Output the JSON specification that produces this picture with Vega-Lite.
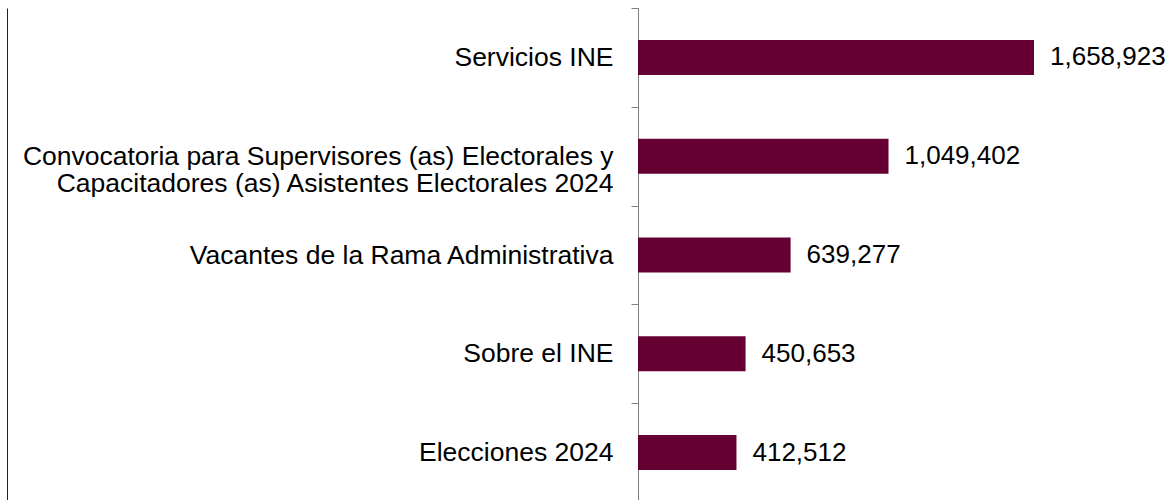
{
  "$schema": "https://vega.github.io/schema/vega-lite/v6.json",
  "width": 534,
  "height": 494,
  "autosize": {"type": "none"},
  "padding": {"left": 638, "top": 8, "right": 0, "bottom": 0},
  "background": "white",
  "config": {"view": {"stroke": null}, "font": "Liberation Sans"},
  "data": {
    "values": [
      {"categoria": "Servicios INE", "visitas": 1658923},
      {"categoria": "Convocatoria para Supervisores (as) Electorales y\nCapacitadores (as) Asistentes Electorales 2024", "visitas": 1049402},
      {"categoria": "Vacantes de la Rama Administrativa", "visitas": 639277},
      {"categoria": "Sobre el INE", "visitas": 450653},
      {"categoria": "Elecciones 2024", "visitas": 412512}
    ]
  },
  "encoding": {
    "y": {
      "field": "categoria",
      "type": "nominal",
      "sort": null,
      "scale": {"paddingInner": 0.646, "paddingOuter": 0.323},
      "axis": {
        "title": null,
        "labelExpr": "isValid(datum.value) ? split(datum.value, '\\n') : ''",
        "labelFont": "Liberation Sans",
        "labelFontSize": 26.5,
        "labelColor": "#000000",
        "labelLineHeight": 27,
        "labelPadding": 18,
        "labelLimit": 700,
        "tickOffset": -49.4,
        "labelOffset": 49.4,
        "tickSize": 7,
        "tickColor": "#808080",
        "domainColor": "#808080",
        "domainWidth": 1,
        "tickWidth": 1
      }
    },
    "x": {
      "field": "visitas",
      "type": "quantitative",
      "scale": {"domain": [0, 2237000], "nice": false},
      "axis": null
    }
  },
  "layer": [
    {
      "mark": {"type": "bar", "color": "#660033"}
    },
    {
      "mark": {"type": "text", "align": "left", "baseline": "middle", "dx": 16, "fontSize": 26, "font": "Liberation Sans", "color": "#000000"},
      "encoding": {
        "text": {"field": "visitas", "type": "quantitative", "format": ",d"},
        "y": {
          "field": "categoria",
          "type": "nominal",
          "sort": null,
          "axis": {
            "orient": "left",
            "offset": 631,
            "labels": false,
            "ticks": false,
            "title": null,
            "domainColor": "#660033",
            "domainWidth": 1
          }
        }
      }
    }
  ],
  "resolve": {"axis": {"y": "independent"}}
}
